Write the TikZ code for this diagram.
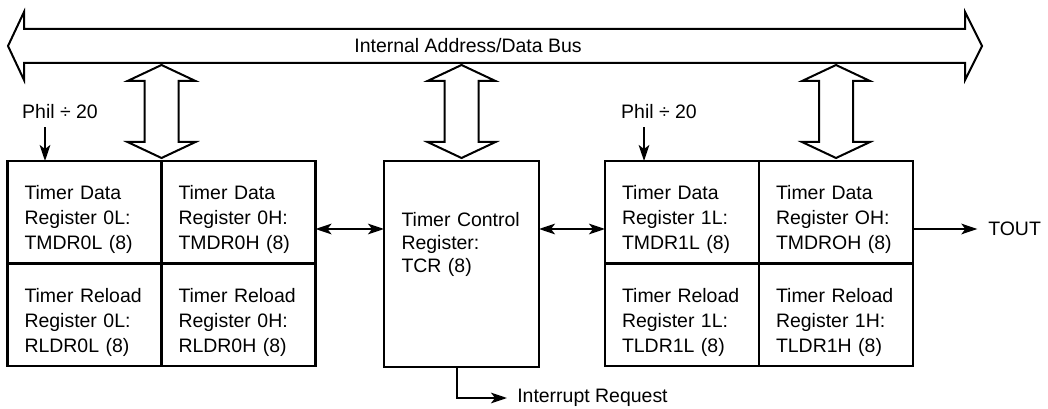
\documentclass[tikz,border=0pt]{standalone}
\usepackage{fontspec}
\setmainfont{Liberation Sans}
\usetikzlibrary{arrows.meta,positioning}
\tikzset{
  reg/.style={draw, line width=2pt, outer sep=0pt, anchor=north west, inner xsep=12.75pt, inner ysep=0pt, text width=90pt, align=left, minimum width=115.5pt, text height=28.9pt, text depth=48pt, font=\fontsize{14.6pt}{18.75pt}\selectfont},
  ctrl/.style={reg, minimum width=116.25pt, inner xsep=13.1pt, text height=49.5pt, text depth=105pt, font=\fontsize{14.6pt}{17pt}\selectfont},
  fat/.style={draw, line width=1.5pt, fill=white},
  sig/.style={line width=1.5pt},
  note/.style={font=\fontsize{14.6pt}{17pt}\selectfont, inner sep=0pt}
}

\begin{document}
\begin{tikzpicture}[x=0.75pt, y=-0.75pt, >={Stealth[length=12pt,width=8pt,inset=3pt]}]
  \useasboundingbox (0,0) rectangle (1048,409);
  % internal bus
  \draw[fat] (8,46) -- (24,12) -- (24,29) -- (965,29) -- (965,12) -- (982,46) -- (965,80) -- (965,63) -- (24,63) -- (24,80) -- cycle;
  \node[note] (bus) at (468,46) {Internal Address/Data Bus};
  % timer 0
  \node[reg] (tmdr0l) at (7.5,161) {Timer Data\\Register 0L:\\TMDR0L (8)};
  \node[reg] (tmdr0h) at (161.5,161) {Timer Data\\Register 0H:\\TMDR0H (8)};
  \node[reg] (rldr0l) at (7.5,263.5) {Timer Reload\\Register 0L:\\RLDR0L (8)};
  \node[reg] (rldr0h) at (161.5,263.5) {Timer Reload\\Register 0H:\\RLDR0H (8)};
  % control register
  \node[ctrl] (tcr) at (384,161) {Timer Control\\Register:\\TCR (8)};
  % timer 1
  \node[reg] (tmdr1l) at (605,161) {Timer Data\\Register 1L:\\TMDR1L (8)};
  \node[reg] (tmdr1h) at (759,161) {Timer Data\\Register OH:\\TMDROH (8)};
  \node[reg] (tldr1l) at (605,263.5) {Timer Reload\\Register 1L:\\TLDR1L (8)};
  \node[reg] (tldr1h) at (759,263.5) {Timer Reload\\Register 1H:\\TLDR1H (8)};
  % bus taps
  \foreach \nd in {tmdr0l.north east, tcr.north, tmdr1h.north}{\draw[fat] ([yshift=2.25pt]\nd) -- ++(-34,-16) -- ++(17,0) -- ++(0,-61) -- ++(-17,0) -- ++(34,-16) -- ++(34,16) -- ++(-17,0) -- ++(0,61) -- ++(17,0) -- cycle;}
  % clock inputs
  \node[note] (phil0) at (60,112) {Phil ÷ 20};
  \node[note] (phil1) at (659,112) {Phil ÷ 20};
  \draw[sig,->] ([xshift=-11.25pt,yshift=-6pt]phil0.south) coordinate (c0) -- (c0 |- tmdr0l.north);
  \draw[sig,->] ([xshift=-11.25pt,yshift=-6pt]phil1.south) coordinate (c1) -- (c1 |- tmdr1l.north);
  % links
  \coordinate (lvl) at (0,229);
  \draw[sig,<->] (tmdr0h.east |- lvl) -- (tcr.west |- lvl);
  \draw[sig,<->] (tcr.east |- lvl) -- (tmdr1l.west |- lvl);
  \node[note, anchor=west] (tout) at (988,229) {TOUT};
  \draw[sig,->] (tmdr1h.east |- lvl) -- ([xshift=-8pt]tout.west);
  \node[note, anchor=west] (irq) at (517,398) {Interrupt Request};
  \draw[sig,->] ([xshift=-3.4pt]tcr.south) |- ([xshift=-7.5pt]irq.west);
\end{tikzpicture}
\end{document}
